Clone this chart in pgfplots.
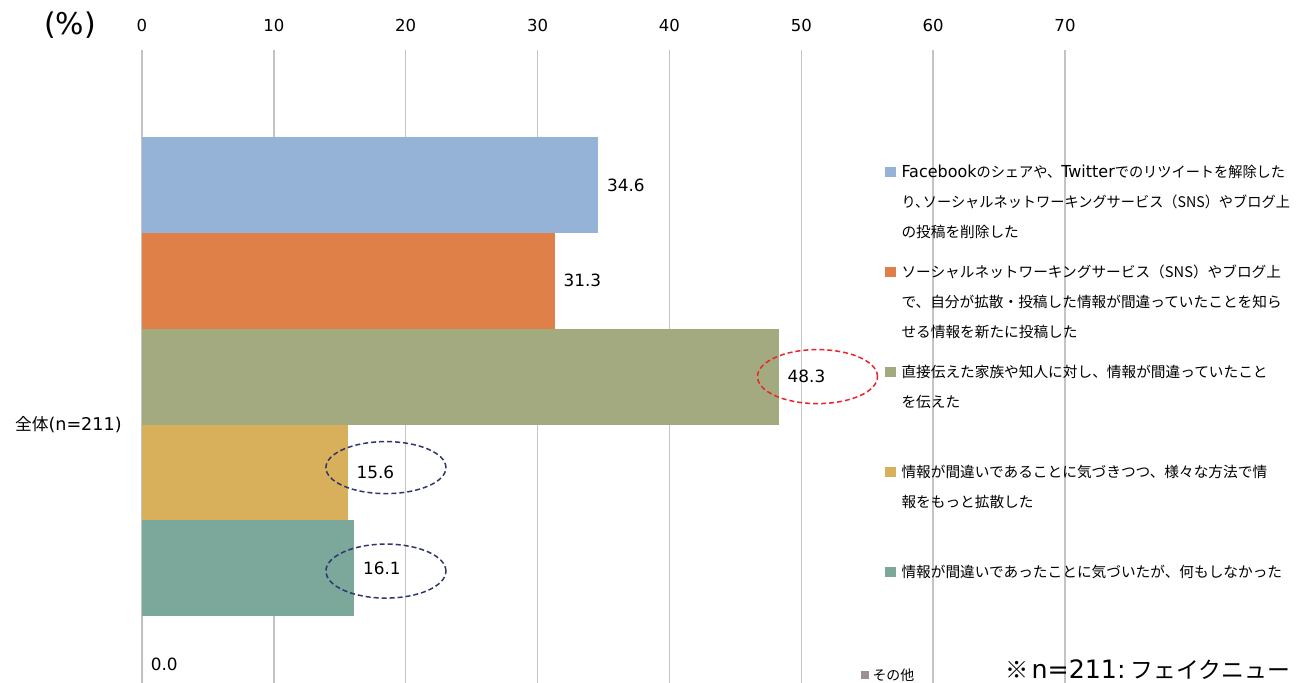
\documentclass[border=0pt]{standalone}
\usepackage{fontspec}
\setmainfont{Noto Sans CJK JP}
\newfontfamily\numfont{DejaVu Sans}
\usepackage{pgfplots}
\pgfplotsset{compat=1.18}
\definecolor{cBlue}{HTML}{95B3D7}
\definecolor{cOrange}{HTML}{DF8049}
\definecolor{cOlive}{HTML}{A4AA80}
\definecolor{cGold}{HTML}{D8B05C}
\definecolor{cTeal}{HTML}{7CA79B}
\definecolor{cGray}{HTML}{9C9090}
\definecolor{gridgray}{HTML}{C4C4C4}
\definecolor{ovalRed}{HTML}{E8262A}
\definecolor{ovalNavy}{HTML}{2F356E}
% latin words in the legend (wider face, as in the original)
\newcommand\lat[1]{{\numfont\fontsize{9.4pt}{17.07pt}\selectfont #1}}
\newcommand\sq[1]{\scalebox{0.967}[1]{#1}}

\begin{document}
\begin{tikzpicture}
\begin{axis}[
  at={(0,0)}, anchor=south west,
  scale only axis, width=18.46cm, height=12.66cm,
  xbar, bar width=1,
  xmin=0, xmax=70, ymin=0.802, ymax=7.409,
  xtick={0,10,...,70}, xticklabel pos=upper,
  ytick={3.5},
  yticklabels={{\fontsize{9.5pt}{11pt}\selectfont 全体}{\numfont\fontsize{10pt}{12pt}\selectfont (n=211)}},
  axis line style={draw=none}, major tick length=0pt,
  xmajorgrids, grid style={draw=gridgray, line width=0.03cm},
  /pgf/number format/assume math mode=true,
  xticklabel style={font=\numfont\fontsize{9.4pt}{11pt}\selectfont, anchor=south, inner sep=0pt, yshift=0.36cm},
  yticklabel style={anchor=east, inner sep=0pt, xshift=-0.4cm},
  point meta=x,
  nodes near coords={\pgfmathprintnumber[fixed,zerofill,precision=1,assume math mode=true]{\pgfplotspointmeta}},
  nodes near coords style={font=\numfont\fontsize{9.6pt}{11pt}\selectfont, anchor=west, inner sep=0pt, xshift=0.17cm, text=black},
  clip=false,
  legend style={draw=none, fill=none, at={(0.805,0.8215)}, anchor=north west,
    inner sep=0pt, outer sep=0pt, row sep=0pt, column sep=0.12cm,
    font=\fontsize{8.35pt}{17.07pt}\selectfont,
    cells={anchor=base west},
    nodes={inner sep=0pt, text height=0.3cm, text depth=1.7cm, anchor=base west}},
  legend image code/.code={\fill[#1] (0cm,0.01cm) rectangle (0.21cm,0.22cm);},
]
\addplot[fill=cBlue, draw=none, bar shift=0pt] coordinates {(34.6,6)};
\addlegendentry{\parbox[t]{9cm}{\sq{\lat{Facebook}のシェアや、\lat{Twitter}でのリツイートを解除した}\\\sq{り、\kern-0.45em ソーシャルネットワーキングサービス（SNS）やブログ上}\\の投稿を削除した}}
\addplot[fill=cOrange, draw=none, bar shift=0pt] coordinates {(31.3,5)};
\addlegendentry{\parbox[t]{9cm}{ソーシャルネットワーキングサービス（SNS）やブログ上\\で、自分が拡散・投稿した情報が間違っていたことを知ら\\せる情報を新たに投稿した}}
\addplot[fill=cOlive, draw=none, bar shift=0pt] coordinates {(48.3,4)};
\addlegendentry{\parbox[t]{9cm}{直接伝えた家族や知人に対し、情報が間違っていたこと\\を伝えた}}
\addplot[fill=cGold, draw=none, bar shift=0pt] coordinates {(15.6,3)};
\addlegendentry{\parbox[t]{9cm}{情報が間違いであることに気づきつつ、様々な方法で情\\報をもっと拡散した}}
\addplot[fill=cTeal, draw=none, bar shift=0pt] coordinates {(16.1,2)};
\addlegendentry{\parbox[t]{9cm}{情報が間違いであったことに気づいたが、何もしなかった}}
\addplot[fill=cGray, draw=none, bar shift=0pt,
  legend image code/.code={\fill[cGray, overlay] (-0.48cm,-0.03cm) rectangle (-0.32cm,0.13cm);}] coordinates {(0,1)};
\addlegendentry{\parbox[t]{9cm}{\hspace*{-0.58cm}\raisebox{-0.06cm}{\fontsize{7.9pt}{17.07pt}\selectfont その他}}}

\draw[ovalRed, line width=0.03cm, dash pattern=on 0.1cm off 0.06cm] (axis cs:51.23,4.0) ellipse [x radius=1.2cm, y radius=0.54cm];
\draw[ovalNavy, line width=0.03cm, dash pattern=on 0.1cm off 0.06cm] (axis cs:18.5,3.05) ellipse [x radius=1.2cm, y radius=0.52cm];
\draw[ovalNavy, line width=0.03cm, dash pattern=on 0.1cm off 0.06cm] (axis cs:18.5,1.97) ellipse [x radius=1.2cm, y radius=0.54cm];
\end{axis}
\node[font=\numfont\fontsize{17pt}{20pt}\selectfont] at (-1.44,13.16) {(\%)};
\node[anchor=base west, inner sep=0pt] at (17.26,0.08)
  {{\fontsize{13.2pt}{16pt}\selectfont ※}\kern0.06cm{\numfont\fontsize{14.4pt}{16pt}\selectfont n=211:}\kern0.1cm{\fontsize{13pt}{16pt}\selectfont フェイクニュー}};
\pgfresetboundingbox
\useasboundingbox (-2.84,0) rectangle (23.26,13.66);
\end{tikzpicture}
\end{document}
